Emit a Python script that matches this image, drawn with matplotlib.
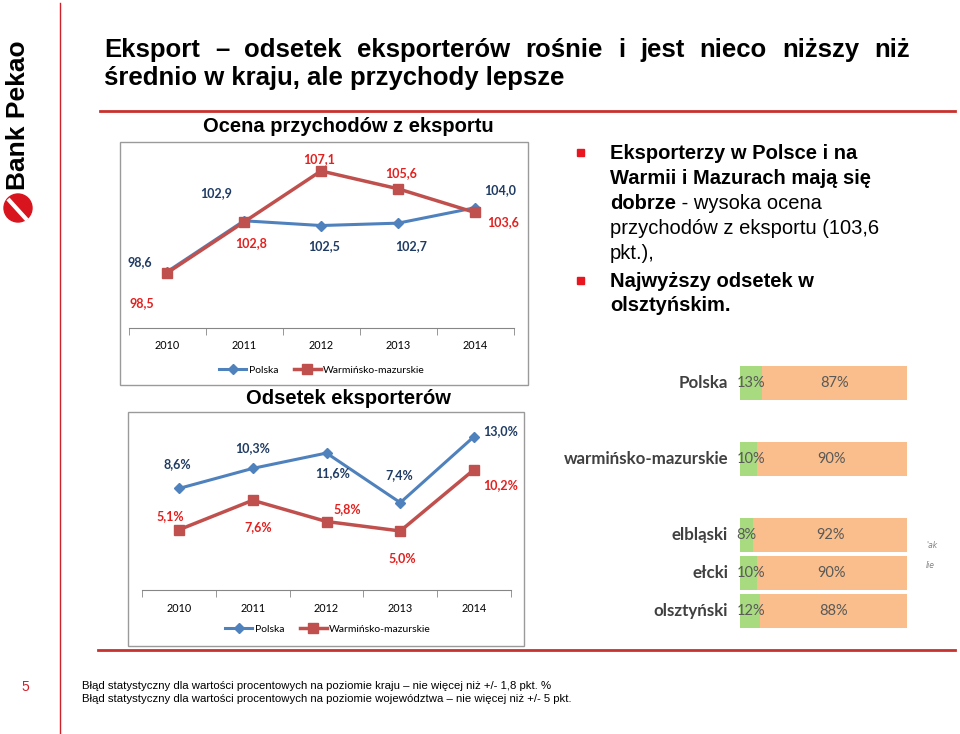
import matplotlib
matplotlib.use('Agg')
import matplotlib.pyplot as plt
from matplotlib.patches import Rectangle, Circle

W, H = 960, 734

years = ['2010', '2011', '2012', '2013', '2014']

# Ocena przychodów z eksportu
rev_polska = [98.6, 102.9, 102.5, 102.7, 104.0]
rev_wm = [98.5, 102.8, 107.1, 105.6, 103.6]

# Odsetek eksporterów (%)
exp_polska = [8.6, 10.3, 11.6, 7.4, 13.0]
exp_wm = [5.1, 7.6, 5.8, 5.0, 10.2]

# udział eksporterów wg regionu (%)
regions = ['Polska', 'warmińsko-mazurskie', 'elbląski', 'ełcki', 'olsztyński']
region_pos = [0, 2, 4, 5, 6]
share_yes = [13, 10, 8, 10, 12]
share_no = [87, 90, 92, 90, 88]

# przesunięcia etykiet danych (piksele)
rev_polska_off = [(-27, 10), (-28, 28), (3, -21), (13, -23), (25, 18)]
rev_wm_off = [(-25, -30), (7, -21), (-2, 12), (3, 16), (28, -10)]
exp_polska_off = [(-2, 24), (0, 20), (6, -20), (-1, 28), (26, 5)]
exp_wm_off = [(-9, 14), (5, -27), (21, 12), (2, -27), (26, -15)]

BLUE = '#4F81BD'
RED = '#C0504D'
NAVY = '#1F3B63'
LRED = '#E3201E'
BODY = ['Liberation Sans', 'DejaVu Sans']
CHART = ['Lato', 'DejaVu Sans']


def px(x0, y0, x1, y1):
    return [x0 / W, 1 - y1 / H, (x1 - x0) / W, (y1 - y0) / H]


def fmt(v, pct=False):
    s = f'{v:.1f}'.replace('.', ',')
    return s + '%' if pct else s


fig = plt.figure(figsize=(W / 100, H / 100), dpi=100)
fig.patch.set_facecolor('white')

# tło w pikselach
bg = fig.add_axes([0, 0, 1, 1])
bg.set_xlim(0, W)
bg.set_ylim(H, 0)
bg.axis('off')

# linie slajdu
bg.plot([60, 60], [3, H], color='#D0202A', lw=1)
bg.plot([100, 955], [111, 111], color='#C8322E', lw=2)
bg.plot([98, 955], [650, 650], color='#C8322E', lw=2)

# logo
bg.text(18, 115, 'Bank Pekao', rotation=90, ha='center', va='center',
        fontsize=19, fontweight='bold', family=BODY)
bg.add_patch(Circle((18, 208), 14, color='#D8141E'))
bg.plot([8, 27], [199, 220], color='white', lw=3, solid_capstyle='butt')

# tytuł (pierwsza linia wyjustowana)
fig.canvas.draw()
r = fig.canvas.get_renderer()
words = 'Eksport – odsetek eksporterów rośnie i jest nieco niższy niż'.split()
arts = [bg.text(0, 57, w, fontsize=18.5, fontweight='bold', family=BODY, va='baseline')
        for w in words]
widths = [a.get_window_extent(r).width for a in arts]
gap = (910 - 104 - sum(widths)) / (len(words) - 1)
x = 104
for a, w in zip(arts, widths):
    a.set_x(x)
    x += w + gap
bg.text(104, 85, 'średnio w kraju, ale przychody lepsze', fontsize=18.5, fontweight='bold',
        family=BODY, va='baseline')

# ramki wykresów
bg.add_patch(Rectangle((120, 142), 408, 243, fill=False, ec='#9A9A9A', lw=1))
bg.add_patch(Rectangle((128, 412), 396, 234, fill=False, ec='#9A9A9A', lw=1))

bg.text(348, 127, 'Ocena przychodów z eksportu', ha='center', va='center', fontsize=14.5,
        fontweight='bold', family=BODY)
bg.text(348, 398, 'Odsetek eksporterów', ha='center', va='center', fontsize=14.5,
        fontweight='bold', family=BODY)


def line_chart(ax, pol, wm, pol_off, wm_off, pct, ylim, ms_red):
    xs = range(len(years))
    ax.plot(xs, pol, color=BLUE, lw=2.2, marker='D', ms=5, label='Polska')
    ax.plot(xs, wm, color=RED, lw=2.5, marker='s', ms=ms_red, label='Warmińsko-mazurskie')
    for i in xs:
        ax.annotate(fmt(pol[i], pct), (i, pol[i]), xytext=pol_off[i], textcoords='offset pixels',
                    ha='center', va='center', color=NAVY, fontsize=9, fontweight='bold',
                    family=CHART)
        ax.annotate(fmt(wm[i], pct), (i, wm[i]), xytext=wm_off[i], textcoords='offset pixels',
                    ha='center', va='center', color=LRED, fontsize=9, fontweight='bold',
                    family=CHART)
    ax.set_xlim(-0.5, len(years) - 0.5)
    ax.set_ylim(*ylim)
    ax.patch.set_alpha(0)
    for s in ['top', 'left', 'right']:
        ax.spines[s].set_visible(False)
    ax.spines['bottom'].set_color('#868686')
    ax.set_yticks([])
    ax.set_xticks(list(xs))
    ax.set_xticklabels(years, family=CHART, fontsize=7.8)
    ax.set_xticks([i - 0.5 for i in range(len(years) + 1)], minor=True)
    ax.tick_params(axis='x', which='major', length=0, pad=9)
    ax.tick_params(axis='x', which='minor', length=5, color='#868686')


ax1 = fig.add_axes(px(128.5, 145, 513.5, 328))
line_chart(ax1, rev_polska, rev_wm, rev_polska_off, rev_wm_off, False, (93.86, 109.29), 6.5)
fig.legend(handles=ax1.get_lines(), loc='center', bbox_to_anchor=(322 / W, 1 - 370 / H),
           ncol=2, frameon=False, prop={'family': CHART, 'size': 7.5}, handlelength=2.6,
           columnspacing=1.5, handletextpad=0.2)

ax2 = fig.add_axes(px(142, 420, 511, 590))
line_chart(ax2, exp_polska, exp_wm, exp_polska_off, exp_wm_off, True, (0, 14.4), 7)
fig.legend(handles=ax2.get_lines(), loc='center', bbox_to_anchor=(328 / W, 1 - 629 / H),
           ncol=2, frameon=False, prop={'family': CHART, 'size': 7.5}, handlelength=2.6,
           columnspacing=1.5, handletextpad=0.2)

# punkty tekstowe po prawej
bullets = [
    (159, [('Eksporterzy w Polsce i na', 'bold')]),
    (184, [('Warmii i Mazurach mają się', 'bold')]),
    (209, [('dobrze', 'bold'), (' - wysoka ocena', 'normal')]),
    (234, [('przychodów z eksportu (103,6', 'normal')]),
    (259, [('pkt.),', 'normal')]),
    (287, [('Najwyższy odsetek w', 'bold')]),
    (311, [('olsztyńskim.', 'bold')]),
]
for y, parts in bullets:
    x = 610
    for txt, wt in parts:
        t = bg.text(x, y, txt, fontsize=14.5, fontweight=wt, family=BODY, va='baseline')
        x += t.get_window_extent(r).width
for y in [152, 280]:
    bg.add_patch(Rectangle((577, y - 3.5), 7, 7, color='#E8161E'))

# paski udziału
axb = fig.add_axes(px(740, 364, 907, 630))
axb.barh(region_pos, share_yes, height=0.9, color='#A8DA80')
axb.barh(region_pos, share_no, left=share_yes, height=0.9, color='#F9BE8C')
axb.set_xlim(0, 100)
axb.set_ylim(6.5, -0.5)
axb.axis('off')
for p, name, a, b in zip(region_pos, regions, share_yes, share_no):
    axb.text(-7.2, p, name, ha='right', va='center', fontsize=12.2, fontweight='bold',
             color='#404040', family=CHART)
    axb.text(-2, p, f'{a}%', ha='left', va='center', fontsize=10.5, color='#595959', family=CHART)
    axb.text(a + b / 2, p, f'{b}%', ha='center', va='center', fontsize=10.5, color='#595959',
             family=CHART)
bg.text(926, 546, "'ak", fontsize=5.5, style='italic', color='#808080', va='center')
bg.text(926, 565, 'lie', fontsize=5.5, style='italic', color='#808080', va='center')

# stopka
bg.text(25, 691, '5', color='#D0202A', fontsize=10, family=BODY, ha='center', va='baseline')
bg.text(82, 689, 'Błąd statystyczny dla wartości procentowych na poziomie kraju – nie więcej niż +/- 1,8 pkt. %',
        fontsize=8.2, family=BODY, va='baseline')
bg.text(82, 702, 'Błąd statystyczny dla wartości procentowych na poziomie województwa – nie więcej niż +/- 5 pkt.',
        fontsize=8.2, family=BODY, va='baseline')

fig.savefig('out.png', dpi=100)
